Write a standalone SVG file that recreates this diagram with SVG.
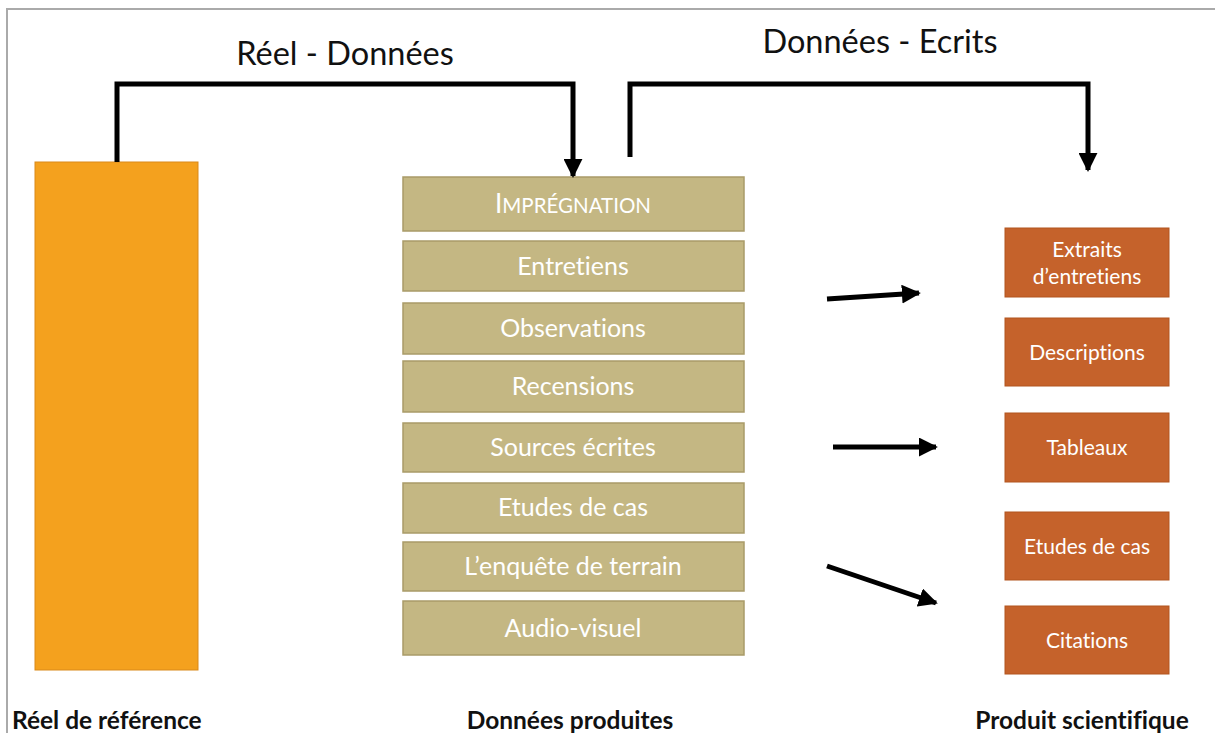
<svg xmlns="http://www.w3.org/2000/svg" width="1215" height="733" viewBox="0 0 1215 733">
<defs>
<style>
text{font-variant-ligatures:none}
.lbl{font-family:"Lato","Open Sans","Liberation Sans",sans-serif;fill:#111;font-size:32.5px;text-anchor:middle}
.foot{font-family:"Lato","Open Sans","Liberation Sans",sans-serif;fill:#111;font-size:24.5px;font-weight:bold}
.mid rect{fill:#C4B783;stroke:#A99B68;stroke-width:1.5}
.mid text{font-family:"Lato","Open Sans","Liberation Sans",sans-serif;fill:#fff;font-size:25px;text-anchor:middle}
.out rect{fill:#C5622B;stroke:#B2541F;stroke-width:1}
.out text{font-family:"Lato","Open Sans","Liberation Sans",sans-serif;fill:#fff;font-size:21px;text-anchor:middle}
.conn{fill:none;stroke:#000;stroke-width:5}
</style>
<marker id="ah" viewBox="0 0 10 10" refX="9" refY="5" markerWidth="3.8" markerHeight="3.8" orient="auto" markerUnits="strokeWidth">
<path d="M0,0 L10,5 L0,10 z" fill="#000"/>
</marker>
</defs>
<rect width="1215" height="733" fill="#fff"/>
<path d="M7,733 V9 H1215" fill="none" stroke="#aaa" stroke-width="2"/>

<text class="lbl" x="345" y="65">Réel - Données</text>
<text class="lbl" x="880" y="53">Données - Ecrits</text>

<g id="reel">
<rect x="35" y="162" width="163" height="508" fill="#F4A11E" stroke="#D9891A" stroke-width="1"/>
</g>

<g class="mid">
<g id="m1"><rect x="403" y="177" width="341" height="54"/><text x="573" y="213"><tspan font-size="26">I</tspan><tspan font-size="20.5">MPRÉGNATION</tspan></text></g>
<g id="m2"><rect x="403" y="241" width="341" height="50"/><text x="573" y="275">Entretiens</text></g>
<g id="m3"><rect x="403" y="303" width="341" height="51"/><text x="573" y="337">Observations</text></g>
<g id="m4"><rect x="403" y="361" width="341" height="51"/><text x="573" y="395">Recensions</text></g>
<g id="m5"><rect x="403" y="423" width="341" height="49"/><text x="573" y="456">Sources écrites</text></g>
<g id="m6"><rect x="403" y="483" width="341" height="50"/><text x="573" y="516">Etudes de cas</text></g>
<g id="m7"><rect x="403" y="542" width="341" height="49"/><text x="573" y="575">L’enquête de terrain</text></g>
<g id="m8"><rect x="403" y="601" width="341" height="54"/><text x="573" y="637">Audio-visuel</text></g>
</g>

<g class="out">
<g id="o1"><rect x="1005" y="228" width="164" height="69"/><text x="1087" y="257">Extraits</text><text x="1087" y="284">d’entretiens</text></g>
<g id="o2"><rect x="1005" y="318" width="164" height="68"/><text x="1087" y="360">Descriptions</text></g>
<g id="o3"><rect x="1005" y="413" width="164" height="69"/><text x="1087" y="455">Tableaux</text></g>
<g id="o4"><rect x="1005" y="512" width="164" height="68"/><text x="1087" y="554">Etudes de cas</text></g>
<g id="o5"><rect x="1005" y="606" width="164" height="68"/><text x="1087" y="648">Citations</text></g>
</g>

<g id="connectors">
<path class="conn" d="M117,162 V84 H573 V176" marker-end="url(#ah)"/>
<path class="conn" d="M630,157 V84 H1088 V170" marker-end="url(#ah)"/>
<path class="conn" d="M827,299 L919,293" marker-end="url(#ah)"/>
<path class="conn" d="M833,447 L936,447" marker-end="url(#ah)"/>
<path class="conn" d="M827,566 L936,603" marker-end="url(#ah)"/>
</g>

<text class="foot" x="12" y="729">Réel de référence</text>
<text class="foot" x="570" y="729" text-anchor="middle">Données produites</text>
<text class="foot" x="1082" y="729" text-anchor="middle">Produit scientifique</text>
</svg>
